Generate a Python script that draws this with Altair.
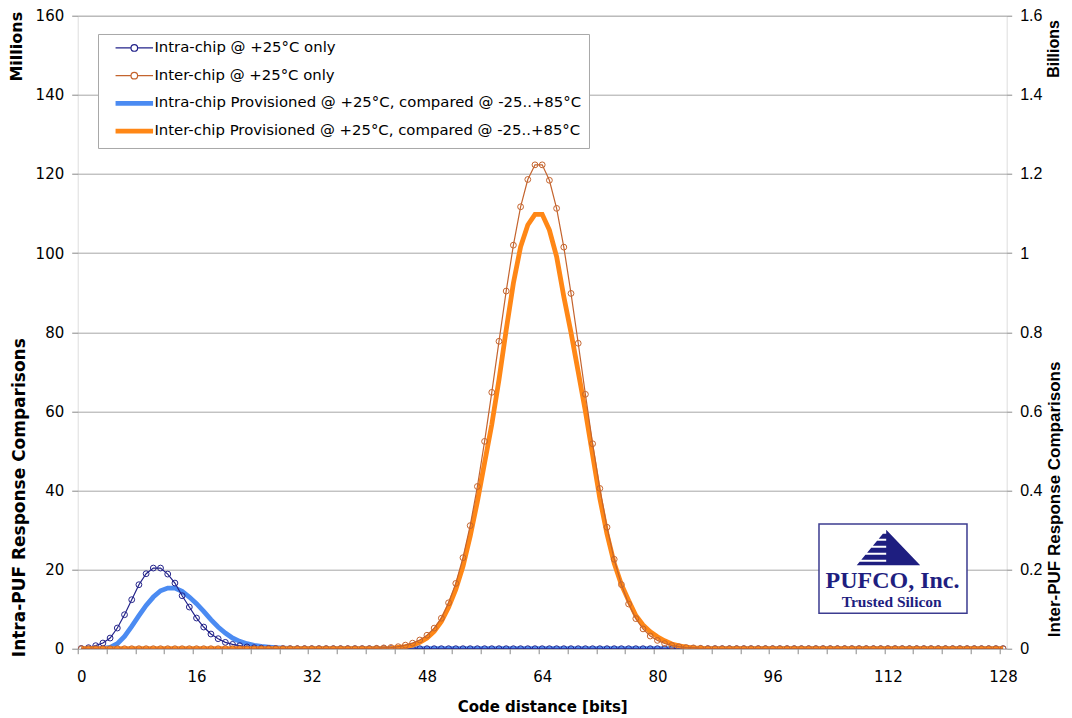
import altair as alt
import pandas as pd

# ---------------- data ----------------
bits = list(range(129))

# Intra-chip @ +25C only  (millions), bits 0..28, zero afterwards
intra25 = [0.05, 0.25, 0.76, 1.43, 2.69, 5.22, 8.59, 12.38, 16.17, 18.95,
           20.38, 20.38, 18.86, 16.59, 13.39, 10.53, 7.75, 5.47, 3.71, 2.53,
           1.60, 1.09, 0.76, 0.45, 0.25, 0.13, 0.06, 0.03, 0.01] + [0.0] * 100

# Intra-chip provisioned (millions), bits 0..31
intra_prov = [0, 0, 0, 0.05, 0.34, 1.26, 3.1, 5.64, 8.34, 10.95,
              13.05, 14.65, 15.33, 15.33, 14.48, 13.05, 11.37, 9.43, 7.33, 5.47,
              3.96, 2.69, 1.85, 1.26, 0.84, 0.59, 0.4, 0.25, 0.15, 0.08,
              0.04, 0.02] + [0.0] * 97

# Inter-chip @ +25C only (billions), bits 41..86
inter25 = [0.0] * 41 + [
    0.001, 0.002, 0.003, 0.005, 0.009, 0.014, 0.022, 0.034, 0.052, 0.077,
    0.116, 0.165, 0.230, 0.311, 0.410, 0.524, 0.648, 0.777, 0.904, 1.020,
    1.117, 1.186, 1.223, 1.223, 1.184, 1.113, 1.015, 0.898, 0.772, 0.643,
    0.518, 0.405, 0.307, 0.226, 0.162, 0.113, 0.076, 0.050, 0.032, 0.021,
    0.013, 0.008, 0.005, 0.003, 0.002, 0.001] + [0.0] * 42

# Inter-chip provisioned (billions), bits 43..86
inter_prov = [0.0] * 43 + [
    0.001, 0.003, 0.005, 0.009, 0.016, 0.027, 0.044, 0.069, 0.105, 0.150,
    0.208, 0.284, 0.372, 0.470, 0.567, 0.680, 0.806, 0.924, 1.016, 1.071,
    1.098, 1.098, 1.058, 0.991, 0.890, 0.799, 0.700, 0.600, 0.490, 0.380,
    0.290, 0.216, 0.162, 0.122, 0.084, 0.060, 0.043, 0.030, 0.020, 0.012,
    0.007, 0.004, 0.002, 0.001] + [0.0] * 42

names = ["Intra-chip @ +25°C only",
         "Inter-chip @ +25°C only",
         "Intra-chip Provisioned @ +25°C, compared @ -25..+85°C",
         "Inter-chip Provisioned @ +25°C, compared @ -25..+85°C"]
colors = ["#23238A", "#C4642E", "#4B8BF2", "#FF8716"]
widths = [1.2, 1.2, 4.8, 4.8]

left_ticks = [0, 20, 40, 60, 80, 100, 120, 140, 160]
right_ticks = [0, 0.2, 0.4, 0.6, 0.8, 1, 1.2, 1.4, 1.6]
x_label_values = [0, 16, 32, 48, 64, 80, 96, 112, 128]
x_tick_values = [-0.5 + 4 * k for k in range(33)]


def frame(vals, i):
    return pd.DataFrame({"bit": bits, "value": vals, "series": names[i]})


df_i25 = frame(intra25, 0)
df_e25 = frame(inter25, 1)
df_ip = frame(intra_prov, 2)
df_ep = frame(inter_prov, 3)
df_all = pd.concat([df_i25, df_ip])

# ---------------- legend ----------------
path_marker = ("M0.8,0H4.233M5.7,0H9.133"
               "M4.233,0A0.733,0.733 0 1,0 5.7,0A0.733,0.733 0 1,0 4.233,0")
path_line = "M0.8,0H9.133"

leg = alt.Legend(title=None, orient="none", legendX=20.3, legendY=18.3,
                 padding=6.5, rowPadding=6.7, gridAlign="all", symbolSize=81,
                 labelOffset=35, labelFont="DejaVu Sans", labelFontSize=14.9,
                 labelColor="black", labelLimit=800,
                 labelExpr="datum.label + '\u00a0\u00a0\u00a0\u00a0\u00a0'",
                 strokeColor="#A8A8A8", fillColor="white",
                 symbolFillColor="white", symbolOpacity=1)

color_enc = alt.Color("series:N", scale=alt.Scale(domain=names, range=colors), legend=leg)
sw_enc = alt.StrokeWidth("series:N", scale=alt.Scale(type="ordinal", domain=names, range=widths), legend=leg)
shape_enc = alt.Shape("series:N", scale=alt.Scale(domain=names,
                      range=[path_marker, path_marker, path_line, path_line]), legend=leg)

# ---------------- axes ----------------
x_ticks_axis = alt.Axis(values=x_tick_values, labels=False, tickSize=5, tickColor="#888",
                        domain=False, grid=False, title=None, orient="bottom")
x_label_axis = alt.Axis(values=x_label_values, ticks=False, domain=False, grid=False,
                        labelFont="DejaVu Sans", labelFontSize=15, labelColor="black",
                        labelPadding=21, orient="bottom",
                        title="Code distance [bits]", titleFont="DejaVu Sans",
                        titleFontSize=15, titleFontWeight="bold", titleColor="black",
                        titleY=58, titleBaseline="middle")
x_scale = alt.Scale(domain=[-0.5, 128.5], nice=False, zero=False)

y_left_axis = alt.Axis(values=left_ticks, orient="left", grid=True, gridColor="#A6A6A6",
                       gridWidth=1, domain=False, tickSize=6, tickColor="#888",
                       labelFont="DejaVu Sans", labelFontSize=15, labelColor="black",
                       labelPadding=8,
                       title="Intra-PUF Response Comparisons", titleFont="DejaVu Sans",
                       titleFontSize=17, titleFontWeight="bold", titleColor="black",
                       titleAngle=270, titleAlign="left", titleBaseline="middle",
                       titleX=-58, titleY=641)
y_right_axis = alt.Axis(values=right_ticks, orient="right", grid=False, domain=False,
                        tickSize=5, tickColor="#888", format="~g",
                        labelFont="Liberation Sans", labelFontSize=16, labelColor="black",
                        labelPadding=8,
                        title="Inter-PUF Response Comparisons", titleFont="Liberation Sans",
                        titleFontSize=17, titleFontWeight="bold", titleColor="black",
                        titleAngle=270, titleAlign="left", titleBaseline="middle",
                        titleX=48.3, titleY=621)

xp = alt.X("bit:Q", scale=x_scale, axis=x_ticks_axis)
xs = alt.X("bit:Q", scale=x_scale, axis=x_label_axis)
yp = alt.Y("value:Q", scale=alt.Scale(domain=[0, 160], nice=False), axis=y_left_axis)
ys = alt.Y("value:Q", scale=alt.Scale(domain=[0, 1.6], nice=False), axis=y_right_axis)

# ---------------- primary (millions) ----------------
p_thick = alt.Chart(df_ip).mark_line(clip=True).encode(x=xp, y=yp, color=color_enc, strokeWidth=sw_enc)
p_thin = alt.Chart(df_i25).mark_line(clip=True).encode(x=xp, y=yp, color=color_enc, strokeWidth=sw_enc)
p_pts = alt.Chart(df_i25).mark_point(filled=False, size=34, strokeWidth=1, shape="circle",
                                     color=colors[0], opacity=1, clip=True).encode(x=xp, y=yp)
p_dummy = alt.Chart(df_all).mark_point(opacity=0, filled=False).encode(
    x=xp, y=yp, color=color_enc, shape=shape_enc, strokeWidth=sw_enc)
primary = alt.layer(p_thick, p_thin, p_pts, p_dummy)

# ---------------- secondary (billions) ----------------
s_thick = alt.Chart(df_ep).mark_line(clip=True).encode(x=xs, y=ys, color=color_enc, strokeWidth=sw_enc)
s_thin = alt.Chart(df_e25).mark_line(clip=True).encode(x=xs, y=ys, color=color_enc, strokeWidth=sw_enc)
s_pts = alt.Chart(df_e25).mark_point(filled=False, size=34, strokeWidth=1, shape="circle",
                                     color=colors[1], opacity=1, clip=True).encode(x=xs, y=ys)
secondary = alt.layer(s_thick, s_thin, s_pts)

# ---------------- annotations ----------------
one = pd.DataFrame({"k": [0]})
millions = alt.Chart(one).mark_text(text="Millions", angle=270, font="DejaVu Sans",
                                    fontSize=16, fontWeight="bold", color="black",
                                    align="center", baseline="middle").encode(
    x=alt.value(-60.7), y=alt.value(31))
billions = alt.Chart(one).mark_text(text="Billions", angle=270, font="Liberation Sans",
                                    fontSize=16, fontWeight="bold", color="black",
                                    align="center", baseline="middle").encode(
    x=alt.value(976.5), y=alt.value(33.3))

logo_box = alt.Chart(one).mark_rect(fill="white", stroke="#3C3C90", strokeWidth=1.5).encode(
    x=alt.value(741.3), x2=alt.value(889.3), y=alt.value(508.3), y2=alt.value(597.6))

stripes = ""
for y0, y1 in [(4, 9), (11, 16), (18, 23), (25, 30), (32, 35.5)]:
    stripes += "M%.2f,%.2fL0,%.2fL0,%.2fL%.2f,%.2fZ" % (-0.83 * y0, y0, y0, y1, -0.83 * y1, y1)
tri_path = "M0,0L34,35.5L0,35.5Z" + stripes
logo_tri = alt.Chart(one).mark_point(shape=tri_path, size=4, filled=True, fill="#1E1E80",
                                     strokeWidth=0, opacity=1).encode(
    x=alt.value(808.5), y=alt.value(514))
logo_t1 = alt.Chart(one).mark_text(text="PUFCO, Inc.", font="Liberation Serif", fontSize=24,
                                   fontWeight="bold", color="#1E1E80", align="center",
                                   baseline="alphabetic").encode(
    x=alt.value(814.8), y=alt.value(572.8))
logo_t2 = alt.Chart(one).mark_text(text="Trusted Silicon", font="Liberation Serif", fontSize=15.5,
                                   fontWeight="bold", color="#1E1E80", align="center",
                                   baseline="alphabetic").encode(
    x=alt.value(814.0), y=alt.value(591.3))

chart = alt.layer(primary, secondary, logo_box, logo_tri, logo_t1, logo_t2, millions, billions
                  ).resolve_scale(y="independent").resolve_axis(x="independent").properties(
    width=929, height=633, autosize="none",
    padding={"left": 69.7, "top": 7.7, "right": 57.3, "bottom": 69}
).configure_view(stroke="#999999", strokeWidth=1.3).configure(background="white")

chart.save("out.html", embed_options={"renderer": "svg", "actions": False})
